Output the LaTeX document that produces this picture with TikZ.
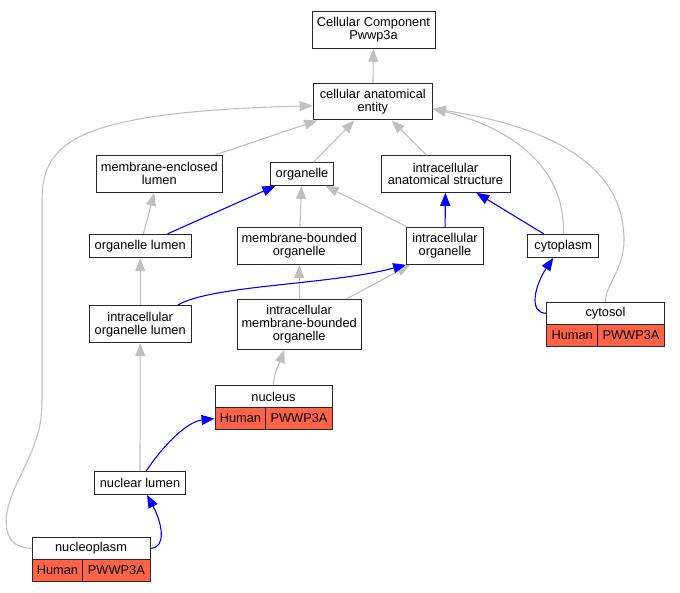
\documentclass[tikz,border=0pt]{standalone}
\usepackage{fontspec}
\setmainfont{Liberation Sans}
\usepackage{tikz}
\usetikzlibrary{arrows.meta}
\definecolor{edgegray}{RGB}{192,192,192}
\definecolor{genered}{RGB}{255,99,71}
\definecolor{boxline}{RGB}{40,40,40}

\begin{document}
\begin{tikzpicture}[x=1pt, y=-1pt,
    term/.style={draw=boxline, line width=1pt, fill=white, align=center, inner sep=0pt,
        font=\fontsize{12.8}{12.8}\selectfont},
    gene/.style={term, fill=genered},
    isa/.style={edgegray, line width=1.1pt, -{Triangle[length=13pt, width=10pt]}},
    partof/.style={isa, blue}]
    \useasboundingbox (0,0) rectangle (680,592);

    % terms
    \node[term, minimum width=123pt, minimum height=36.5pt] (ccp) at (373.5, 30) {Cellular Component\\Pwwp3a};
    \node[term, minimum width=119pt, minimum height=36.5pt] (cae) at (372.8, 101.7) {cellular anatomical\\entity};
    \node[term, minimum width=126.5pt, minimum height=37pt] (mel) at (159.3, 173.8) {membrane-enclosed\\lumen};
    \node[term, minimum width=63.5pt, minimum height=22.7pt] (org) at (302, 174) {organelle};
    \node[term, minimum width=129pt, minimum height=36.6pt] (ias) at (445.5, 174) {intracellular\\anatomical structure};
    \node[term, minimum width=101.7pt, minimum height=23.4pt] (orgl) at (140.2, 246) {organelle lumen};
    \node[term, minimum width=123.7pt, minimum height=36.6pt] (mbo) at (299.2, 246) {membrane-bounded\\organelle};
    \node[term, minimum width=76.6pt, minimum height=36.6pt] (io) at (445, 246) {intracellular\\organelle};
    \node[term, minimum width=71.3pt, minimum height=23pt] (cyto) at (563.3, 245.8) {cytoplasm};
    \node[term, minimum width=101.7pt, minimum height=36.7pt] (iol) at (140.2, 324.3) {intracellular\\organelle lumen};
    \node[term, minimum width=123.7pt, minimum height=50pt] (imbo) at (299.2, 324.3) {intracellular\\membrane-bounded\\organelle};
    \node[term, minimum width=91.4pt, minimum height=22.6pt] (nl) at (140, 483) {nuclear lumen};

    % annotated terms
    \node[term, minimum width=117.6pt, minimum height=22pt] (cytosol) at (605.5, 313.3) {cytosol};
    \node[gene, minimum width=51pt, minimum height=22.4pt] (cytosolHs) at (572.2, 335.5) {Human};
    \node[gene, minimum width=66.6pt, minimum height=22.4pt] (cytosolGene) at (631, 335.5) {PWWP3A};
    \node[term, minimum width=117pt, minimum height=22.7pt] (nucleus) at (273.5, 396.5) {nucleus};
    \node[gene, minimum width=50.7pt, minimum height=21.7pt] (nucleusHs) at (240.4, 418.5) {Human};
    \node[gene, minimum width=66.3pt, minimum height=21.7pt] (nucleusGene) at (299, 418.5) {PWWP3A};
    \node[term, minimum width=118pt, minimum height=22.3pt] (npl) at (91, 548.3) {nucleoplasm};
    \node[gene, minimum width=50.7pt, minimum height=22.4pt] (nplHs) at (57.4, 570.5) {Human};
    \node[gene, minimum width=67.3pt, minimum height=22.4pt] (nplGene) at (116.4, 570.5) {PWWP3A};

    % is a
    \draw[isa] (cae) -- (ccp);
    \draw[isa] (mel) -- (cae);
    \draw[isa] (org) -- (cae);
    \draw[isa] (ias) -- (cae);
    \draw[isa] (orgl) -- (mel);
    \draw[isa] (mbo) -- (org);
    \draw[isa] (io) -- (org);
    \draw[isa] (iol) -- (orgl);
    \draw[isa] (imbo) -- (mbo);
    \draw[isa] (imbo) -- (io);
    \draw[isa] (nl) -- (iol);
    \draw[isa] (nucleus.north) .. controls (274, 372) and (280, 362) .. ([xshift=-15pt]imbo.south);
    \draw[isa] (cyto.north) .. controls (566, 160) and (500, 125) .. ([yshift=-7pt]cae.east);
    \draw[isa] (cytosol.north) .. controls (605, 285) and (624, 270) .. (624, 240)
        .. controls (624, 160) and (540, 125) .. ([yshift=-7pt]cae.east);
    \draw[isa] (npl.west) .. controls (0, 548) and (0, 515) .. (20, 477)
        .. controls (35, 445) and (42, 430) .. (42, 400) -- (42, 200)
        .. controls (42, 140) and (80, 112) .. ([yshift=-4pt]cae.west);

    % part of
    \draw[partof] (orgl) -- (org);
    \draw[partof] (io) -- (ias);
    \draw[partof] (cyto) -- (ias);
    \draw[partof] ([xshift=37pt]iol.north) .. controls (210, 285) and (330, 285) .. (io.south west);
    \draw[partof] (cytosol.west) .. controls (528, 313) and (535, 285) .. ([xshift=-10pt]cyto.south);
    \draw[partof] ([xshift=6pt]nl.north) .. controls (160, 450) and (185, 422) .. (nucleusHs.west);
    \draw[partof] (npl.east) .. controls (166, 548) and (163, 525) .. ([xshift=7pt]nl.south);
\end{tikzpicture}
\end{document}
